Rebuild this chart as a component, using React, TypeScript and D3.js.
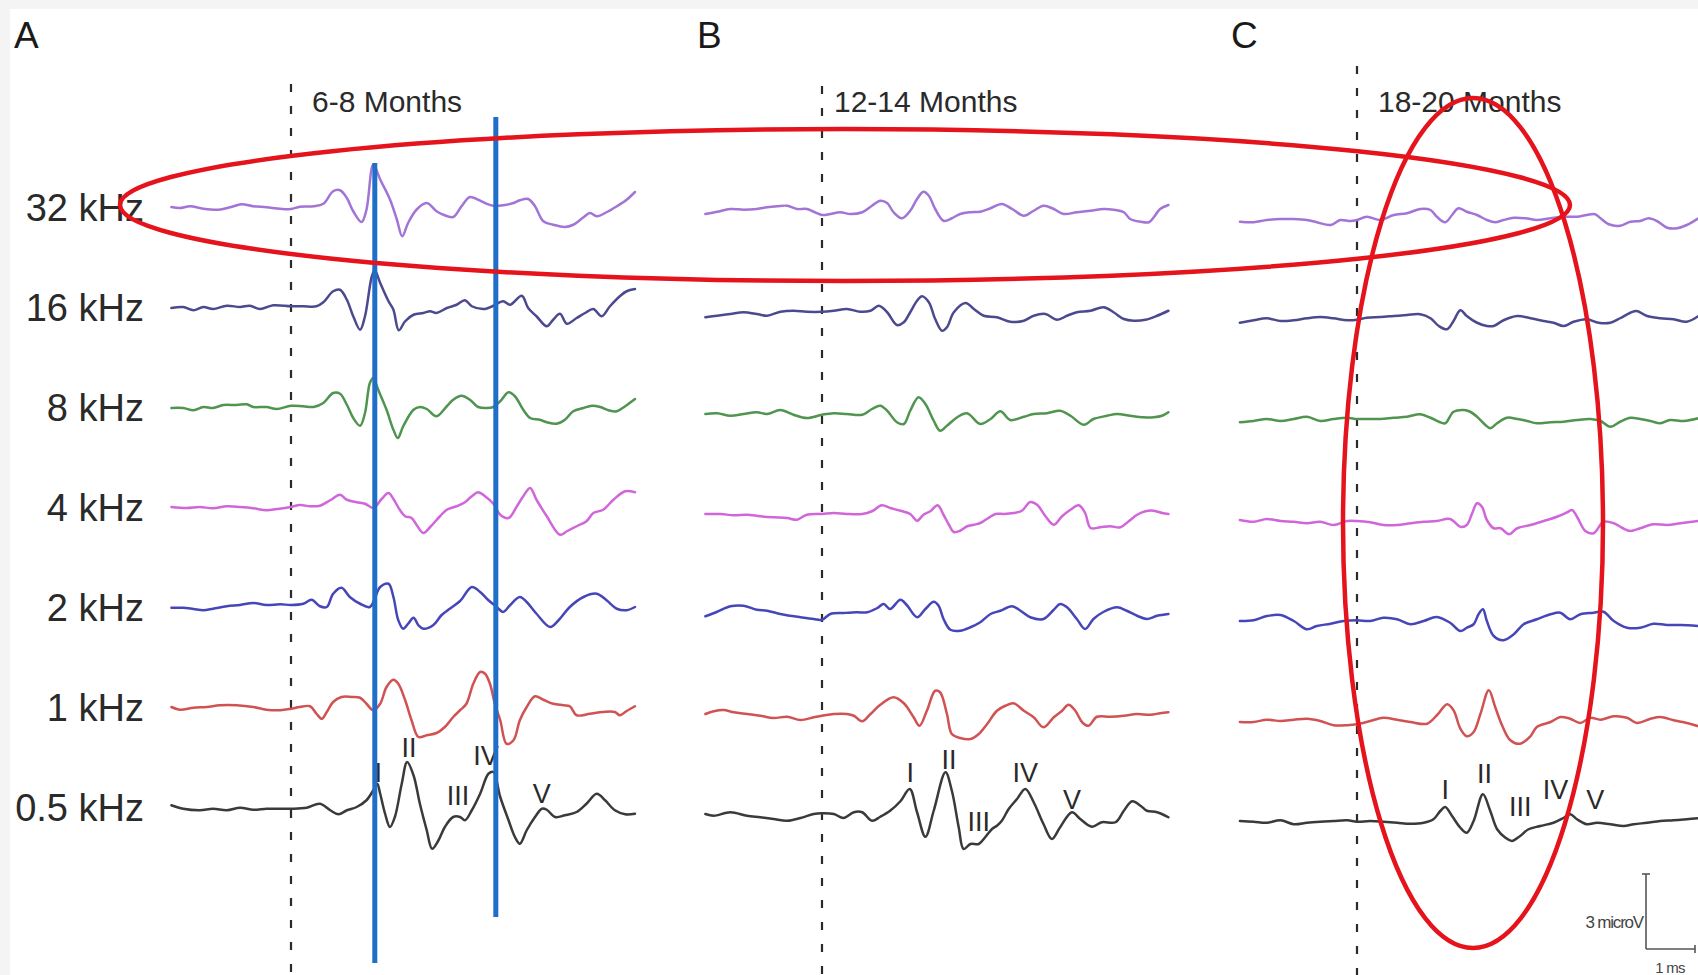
import React from 'react';
import * as d3 from 'd3';

// ABR traces, 7 stimulus frequencies x 3 age groups
// each trace: [time after onset (ms), amplitude (microV)]
type Pt = [number, number];

const freqLabels = ['32 kHz', '16 kHz', '8 kHz', '4 kHz', '2 kHz', '1 kHz', '0.5 kHz'];
const traceColors = ['#a274d6', '#4c4a8e', '#4f944f', '#d066da', '#4646b8', '#d05252', '#3a3a3a'];
const panelLetters = ['A', 'B', 'C'];
const panelTitles = ['6-8 Months', '12-14 Months', '18-20 Months'];
const waveNames = ['I', 'II', 'III', 'IV', 'V'];

// ---- panel A : 6-8 months ----
const a32: Pt[] = [[-2.44,0],[-2.27,-0.04],[-2.06,0.03],[-1.79,-0.07],[-1.48,-0.11],[-1.24,-0.01],[-1.01,0.11],[-0.77,0.03],[-0.5,-0.01],[-0.22,-0.07],[0,-0.08],[0.18,0.01],[0.46,0.03],[0.66,0.13],[0.86,0.63],[1.0,0.67],[1.14,0.36],[1.27,-0.17],[1.44,-0.6],[1.54,-0.11],[1.68,1.7],[1.82,1.1],[2.02,0.3],[2.16,-0.5],[2.27,-1.17],[2.39,-0.64],[2.56,-0.11],[2.77,0.16],[2.97,-0.17],[3.11,-0.31],[3.31,-0.4],[3.48,0.03],[3.65,0.4],[3.82,0.29],[3.96,0.16],[4.13,0.05],[4.33,0.07],[4.54,0.16],[4.67,0.27],[4.84,0.32],[4.98,0.03],[5.15,-0.57],[5.35,-0.71],[5.59,-0.8],[5.76,-0.71],[5.97,-0.41],[6.1,-0.24],[6.24,-0.37],[6.44,-0.21],[6.65,0.03],[6.85,0.29],[7.02,0.6]];
const a16: Pt[] = [[-2.44,-0.04],[-2.2,0],[-1.99,-0.13],[-1.79,0],[-1.59,-0.08],[-1.31,0.05],[-1.04,0],[-0.84,0.05],[-0.63,-0.08],[-0.36,0.07],[0,0.03],[0.25,0.03],[0.52,0.03],[0.66,0.19],[0.86,0.63],[1.0,0.69],[1.14,0.29],[1.27,-0.37],[1.41,-0.91],[1.51,-0.37],[1.65,1.23],[1.71,1.47],[1.82,0.96],[1.99,0.23],[2.09,-0.11],[2.2,-0.93],[2.33,-0.57],[2.5,-0.31],[2.7,-0.24],[2.84,-0.17],[2.97,-0.24],[3.18,-0.04],[3.38,0.09],[3.55,0.27],[3.69,0.03],[3.96,-0.08],[4.13,0.05],[4.33,0.23],[4.47,0.09],[4.71,0.45],[4.84,-0.04],[5.01,-0.37],[5.22,-0.77],[5.35,-0.51],[5.49,-0.27],[5.63,-0.67],[5.83,-0.44],[6.0,-0.24],[6.17,-0.08],[6.34,-0.37],[6.51,0.03],[6.71,0.43],[6.85,0.63],[7.02,0.72]];
const a8: Pt[] = [[-2.44,-0.04],[-2.2,-0.04],[-1.99,-0.13],[-1.79,0],[-1.59,-0.04],[-1.38,0.08],[-1.11,0.08],[-0.9,0.11],[-0.77,0],[-0.5,0],[-0.29,-0.08],[0,0.05],[0.25,0.03],[0.46,0],[0.66,0.16],[0.86,0.56],[1.0,0.53],[1.14,0.09],[1.27,-0.44],[1.41,-0.75],[1.51,-0.24],[1.61,0.96],[1.68,1.16],[1.78,0.69],[1.95,-0.11],[2.09,-0.91],[2.18,-1.24],[2.29,-0.77],[2.5,-0.11],[2.63,0],[2.77,-0.08],[2.97,-0.37],[3.18,0.03],[3.31,0.29],[3.48,0.45],[3.65,0.29],[3.82,0],[3.99,-0.04],[4.13,0],[4.27,0.23],[4.44,0.59],[4.57,0.43],[4.74,-0.11],[4.88,-0.44],[5.08,-0.51],[5.22,-0.61],[5.42,-0.67],[5.59,-0.51],[5.76,-0.17],[5.97,-0.04],[6.14,0.05],[6.31,0],[6.48,-0.13],[6.65,-0.17],[6.82,0.03],[7.02,0.32]];
const a4: Pt[] = [[-2.44,0],[-2.13,-0.04],[-1.86,0],[-1.59,-0.05],[-1.31,0.03],[-1.04,0],[-0.77,-0.05],[-0.5,-0.13],[-0.29,-0.08],[0,0],[0.18,0.08],[0.39,0.03],[0.59,0.05],[0.8,0.27],[1.0,0.49],[1.14,0.29],[1.34,0.19],[1.51,0.13],[1.68,-0.04],[1.85,0.32],[1.99,0.56],[2.09,0.32],[2.22,-0.11],[2.33,-0.37],[2.46,-0.44],[2.56,-0.71],[2.7,-1.04],[2.84,-0.8],[3.04,-0.37],[3.18,-0.11],[3.38,0.03],[3.55,0.19],[3.69,0.43],[3.82,0.59],[3.96,0.43],[4.13,0.13],[4.27,-0.31],[4.44,-0.44],[4.61,0.03],[4.74,0.43],[4.88,0.76],[5.01,0.29],[5.22,-0.37],[5.49,-1.11],[5.63,-0.97],[5.83,-0.77],[6.03,-0.57],[6.17,-0.24],[6.37,-0.11],[6.58,0.29],[6.82,0.63],[7.02,0.59]];
const a2: Pt[] = [[-2.44,-0.03],[-2.2,-0.03],[-1.99,-0.08],[-1.79,-0.13],[-1.59,-0.07],[-1.31,0.03],[-1.04,0.08],[-0.77,0.16],[-0.5,0.08],[-0.22,0.11],[0,0.08],[0.25,0.13],[0.42,0.29],[0.59,0.03],[0.73,0],[0.86,0.53],[1.03,0.77],[1.2,0.4],[1.41,0.13],[1.61,0],[1.82,0.8],[1.99,0.93],[2.09,0.4],[2.19,-0.53],[2.29,-0.87],[2.39,-0.67],[2.5,-0.43],[2.6,-0.73],[2.7,-0.87],[2.9,-0.73],[3.07,-0.33],[3.24,-0.07],[3.45,0.24],[3.69,0.8],[3.86,0.6],[4.03,0.27],[4.2,0],[4.33,-0.2],[4.47,0.07],[4.67,0.4],[4.81,0.2],[5.01,-0.27],[5.29,-0.8],[5.46,-0.53],[5.69,0],[5.97,0.4],[6.24,0.53],[6.44,0.27],[6.65,-0.07],[6.85,-0.13],[7.02,0]];
const a1: Pt[] = [[-2.44,0],[-2.27,-0.11],[-1.99,-0.03],[-1.72,0],[-1.45,0.07],[-1.11,0.07],[-0.77,0],[-0.5,-0.11],[-0.22,-0.13],[0,-0.07],[0.18,0],[0.39,0.03],[0.52,-0.27],[0.63,-0.47],[0.73,-0.2],[0.86,0.2],[1.03,0.4],[1.24,0.4],[1.41,0.37],[1.54,0.13],[1.68,-0.13],[1.82,0.13],[1.95,0.8],[2.09,1.09],[2.19,0.93],[2.33,0.27],[2.46,-0.53],[2.6,-1.2],[2.77,-1.13],[2.97,-1.04],[3.14,-0.8],[3.31,-0.4],[3.45,-0.13],[3.58,0.13],[3.72,0.93],[3.86,1.4],[3.96,1.33],[4.06,0.93],[4.16,0.13],[4.27,-0.53],[4.4,-1.47],[4.54,-1.33],[4.67,-0.53],[4.81,0],[4.98,0.43],[5.15,0.29],[5.35,0.13],[5.56,0.07],[5.69,0.03],[5.83,-0.33],[6.1,-0.27],[6.37,-0.2],[6.61,-0.2],[6.71,-0.33],[6.85,-0.16],[7.02,0.03]];
const a05: Pt[] = [[-2.44,0.07],[-2.2,-0.07],[-1.86,-0.13],[-1.59,-0.07],[-1.31,-0.13],[-1.04,-0.03],[-0.77,-0.11],[-0.5,-0.07],[-0.22,-0.07],[0,-0.07],[0.32,-0.03],[0.59,0.13],[0.8,-0.13],[0.97,-0.29],[1.14,-0.13],[1.34,0],[1.54,0.27],[1.68,0.67],[1.76,0.93],[1.82,0.53],[1.92,-0.27],[2.02,-0.8],[2.12,-0.4],[2.26,0.93],[2.37,1.8],[2.5,1.27],[2.63,0.13],[2.77,-0.93],[2.88,-1.67],[3.01,-1.33],[3.14,-0.8],[3.31,-0.4],[3.45,-0.4],[3.55,-0.53],[3.69,-0.13],[3.86,0.53],[4.03,1.33],[4.13,1.4],[4.27,0.4],[4.44,-0.53],[4.57,-1.2],[4.67,-1.47],[4.81,-0.93],[4.98,-0.4],[5.12,-0.07],[5.22,-0.11],[5.39,-0.4],[5.59,-0.33],[5.83,-0.2],[6.03,0.13],[6.24,0.53],[6.41,0.27],[6.61,-0.13],[6.82,-0.29],[7.02,-0.27]];
const aWaves: Pt[] = [[1.78,1.0],[2.41,2.0],[3.41,0.07],[3.98,1.67],[5.12,0.16]];

// ---- panel B : 12-14 months ----
const b32: Pt[] = [[-2.38,0],[-2.14,0.09],[-1.87,0.2],[-1.6,0.17],[-1.33,0.2],[-1.12,0.27],[-0.92,0.31],[-0.71,0.33],[-0.51,0.2],[-0.31,0.2],[-0.17,0.09],[0,-0.04],[0.17,0],[0.37,0.07],[0.58,0],[0.82,0.07],[1.02,0.33],[1.19,0.53],[1.33,0.44],[1.46,0.07],[1.63,-0.17],[1.8,0.13],[1.94,0.6],[2.07,0.89],[2.18,0.73],[2.31,0.2],[2.48,-0.27],[2.65,-0.17],[2.82,0],[3.03,0.07],[3.23,0.09],[3.44,0.23],[3.67,0.4],[3.88,0.2],[4.12,-0.07],[4.32,0.13],[4.52,0.33],[4.73,0.2],[4.93,0],[5.2,0.07],[5.48,0.13],[5.75,0.2],[5.95,0.17],[6.16,0.07],[6.29,-0.2],[6.5,-0.31],[6.67,-0.33],[6.77,-0.13],[6.9,0.2],[7.07,0.36]];
const b16: Pt[] = [[-2.38,-0.13],[-2.14,-0.07],[-1.87,0],[-1.6,0.07],[-1.33,0],[-1.12,-0.07],[-0.85,0.09],[-0.58,0.13],[-0.31,0.09],[0,0.09],[0.24,0.13],[0.51,0.2],[0.78,0.09],[0.99,0.13],[1.16,0.33],[1.33,0.07],[1.53,-0.44],[1.67,-0.33],[1.8,0.07],[1.94,0.53],[2.04,0.71],[2.18,0.47],[2.31,-0.2],[2.45,-0.67],[2.55,-0.53],[2.69,0.07],[2.93,0.44],[3.1,0.2],[3.3,-0.07],[3.57,-0.13],[3.84,-0.31],[4.12,-0.27],[4.32,-0.07],[4.56,0],[4.8,-0.23],[5.0,-0.07],[5.2,0.07],[5.48,0.13],[5.75,0.27],[5.95,0.07],[6.16,-0.2],[6.36,-0.27],[6.6,-0.23],[6.84,-0.07],[7.07,0.13]];
const b8: Pt[] = [[-2.38,0],[-2.14,0.03],[-1.87,-0.07],[-1.6,0],[-1.33,0.07],[-1.12,0],[-0.85,0.16],[-0.58,-0.03],[-0.31,-0.16],[0,-0.03],[0.24,0.03],[0.51,0],[0.82,-0.03],[1.02,0.2],[1.19,0.33],[1.33,0.13],[1.53,-0.33],[1.67,-0.4],[1.8,0.13],[1.97,0.67],[2.11,0.4],[2.28,-0.27],[2.41,-0.67],[2.55,-0.47],[2.76,-0.13],[2.96,0.03],[3.23,-0.4],[3.44,-0.2],[3.64,0.11],[3.84,-0.24],[4.12,-0.11],[4.32,0],[4.59,0.03],[4.86,0.13],[5.07,-0.07],[5.34,-0.43],[5.54,-0.2],[5.82,-0.07],[6.02,0],[6.29,-0.07],[6.56,-0.13],[6.77,-0.13],[6.94,-0.07],[7.07,0.07]];
const b4: Pt[] = [[-2.38,0],[-2.07,0],[-1.8,-0.05],[-1.53,-0.03],[-1.26,-0.09],[-0.99,-0.13],[-0.71,-0.16],[-0.51,-0.23],[-0.31,-0.03],[0,0],[0.24,0.04],[0.51,0],[0.82,0],[1.02,0.11],[1.22,0.35],[1.39,0.24],[1.6,0.13],[1.8,0],[1.94,-0.27],[2.07,-0.03],[2.21,0.11],[2.36,0.35],[2.48,-0.03],[2.59,-0.43],[2.69,-0.72],[2.82,-0.67],[2.96,-0.49],[3.1,-0.43],[3.23,-0.36],[3.37,-0.19],[3.54,0],[3.71,0],[3.91,0.04],[4.08,0.13],[4.25,0.48],[4.39,0.37],[4.56,-0.09],[4.73,-0.43],[4.9,-0.09],[5.07,0.17],[5.24,0.35],[5.37,0.04],[5.48,-0.56],[5.68,-0.53],[5.88,-0.49],[6.09,-0.53],[6.26,-0.29],[6.43,-0.03],[6.6,0.11],[6.77,0.13],[6.94,0.04],[7.07,0]];
const b2: Pt[] = [[-2.38,-0.09],[-2.14,0.09],[-1.87,0.31],[-1.6,0.33],[-1.33,0.17],[-1.12,0.13],[-0.85,0],[-0.65,-0.07],[-0.44,-0.13],[-0.17,-0.2],[0,-0.23],[0.17,0],[0.44,0.04],[0.71,0.07],[0.92,0.07],[1.12,0.23],[1.26,0.4],[1.39,0.2],[1.6,0.57],[1.73,0.36],[1.94,-0.13],[2.11,0.2],[2.28,0.49],[2.38,0.33],[2.48,-0.2],[2.62,-0.63],[2.82,-0.67],[3.03,-0.53],[3.23,-0.33],[3.44,0],[3.64,0.13],[3.88,0.31],[4.05,0.13],[4.25,-0.13],[4.52,-0.2],[4.73,0.17],[4.86,0.4],[5.0,0.27],[5.2,-0.2],[5.37,-0.6],[5.54,-0.2],[5.75,0.09],[6.02,0.27],[6.22,0.13],[6.43,-0.07],[6.63,-0.2],[6.84,-0.07],[7.07,0]];
const b1: Pt[] = [[-2.38,0],[-2.21,0.11],[-2.01,0.16],[-1.8,0.07],[-1.53,0],[-1.26,-0.07],[-0.99,-0.16],[-0.71,-0.11],[-0.44,-0.24],[-0.17,-0.13],[0,-0.07],[0.24,0],[0.51,0],[0.65,-0.07],[0.82,-0.29],[0.99,0],[1.19,0.37],[1.46,0.67],[1.67,0.43],[1.87,-0.13],[1.99,-0.47],[2.14,0.13],[2.31,0.93],[2.41,0.87],[2.55,0],[2.65,-0.8],[2.82,-0.96],[3.03,-1.0],[3.2,-0.8],[3.37,-0.4],[3.57,0.13],[3.74,0.33],[3.91,0.43],[4.12,0.13],[4.32,-0.13],[4.52,-0.53],[4.73,-0.13],[4.9,0.13],[5.03,0.37],[5.17,0.13],[5.31,-0.33],[5.44,-0.47],[5.61,-0.11],[5.88,-0.11],[6.16,-0.07],[6.43,0],[6.7,-0.03],[6.9,0.03],[7.07,0.07]];
const b05: Pt[] = [[-2.38,0],[-2.21,-0.07],[-1.87,0.07],[-1.53,-0.07],[-1.26,-0.13],[-0.99,-0.2],[-0.71,-0.27],[-0.44,-0.16],[-0.17,0],[0,0.03],[0.24,0],[0.44,-0.16],[0.65,0.07],[0.82,0.07],[1.02,-0.27],[1.19,-0.11],[1.39,0.13],[1.6,0.51],[1.79,1.0],[1.94,0.07],[2.11,-0.91],[2.28,0.13],[2.52,1.67],[2.65,0.93],[2.79,-0.53],[2.89,-1.4],[3.03,-1.2],[3.2,-1.2],[3.33,-0.93],[3.47,-0.6],[3.57,-0.47],[3.67,-0.27],[3.81,0.2],[3.98,0.6],[4.15,1.0],[4.32,0.47],[4.52,-0.4],[4.69,-1.0],[4.86,-0.53],[5.1,0.07],[5.27,-0.2],[5.51,-0.51],[5.71,-0.33],[5.99,-0.33],[6.16,0.13],[6.33,0.51],[6.5,0.33],[6.63,0.13],[6.84,0.07],[7.07,-0.13]];
const bWaves: Pt[] = [[1.8,1.27],[2.59,1.8],[3.2,-0.67],[4.15,1.27],[5.1,0.2]];

// ---- panel C : 18-20 months ----
const c32: Pt[] = [[-2.39,-0.03],[-2.11,-0.05],[-1.84,0.04],[-1.56,0.08],[-1.29,0.08],[-1.02,0.04],[-0.82,-0.05],[-0.54,-0.16],[-0.34,0.04],[-0.14,0],[0,0.04],[0.2,0.17],[0.48,0.04],[0.75,0.24],[1.02,0.31],[1.29,0.48],[1.5,0.44],[1.63,0.17],[1.8,-0.05],[1.94,0.24],[2.07,0.51],[2.24,0.37],[2.45,0.24],[2.65,0.04],[2.82,-0.05],[2.99,0.04],[3.2,0.13],[3.44,0.11],[3.67,0.04],[3.95,0.11],[4.22,0.17],[4.49,0.17],[4.69,0.24],[4.86,0.27],[4.97,0.11],[5.14,-0.13],[5.37,-0.19],[5.58,-0.03],[5.78,0],[5.95,0.11],[6.12,0],[6.33,-0.27],[6.53,-0.29],[6.73,-0.16],[6.97,0.11],[7.04,0.2]];
const c16: Pt[] = [[-2.39,-0.07],[-2.11,0.03],[-1.84,0.11],[-1.56,0],[-1.29,0.03],[-1.02,0.11],[-0.75,0.16],[-0.48,0.11],[-0.2,0.03],[0,0.05],[0.2,0.13],[0.48,0.16],[0.75,0.2],[1.02,0.24],[1.29,0.27],[1.5,0.11],[1.67,-0.2],[1.84,-0.33],[1.97,0],[2.11,0.43],[2.24,0.2],[2.45,-0.07],[2.65,-0.2],[2.79,-0.2],[2.99,0.03],[3.27,0.2],[3.54,0.11],[3.81,0],[4.01,-0.07],[4.22,-0.2],[4.42,-0.03],[4.69,0.07],[4.93,-0.07],[5.17,-0.07],[5.37,0.11],[5.58,0.33],[5.71,0.4],[5.92,0.2],[6.19,0.11],[6.46,0.07],[6.73,-0.03],[6.97,0.2]];
const c8: Pt[] = [[-2.39,-0.05],[-2.11,0],[-1.84,0.08],[-1.56,0],[-1.29,0.08],[-1.02,0.17],[-0.75,0],[-0.48,0.08],[-0.2,0.13],[0,0.08],[0.2,0.08],[0.48,0.08],[0.75,0.13],[1.02,0.17],[1.29,0.27],[1.5,0.13],[1.67,-0.03],[1.8,-0.09],[1.97,0.37],[2.18,0.44],[2.31,0.37],[2.45,0.17],[2.62,-0.16],[2.72,-0.29],[2.86,-0.09],[3.06,0.13],[3.27,0.08],[3.47,0],[3.67,-0.09],[3.95,-0.05],[4.22,-0.03],[4.49,0.04],[4.76,0.08],[4.97,0],[5.17,-0.23],[5.37,-0.03],[5.58,0.13],[5.78,0.08],[5.99,0],[6.19,-0.09],[6.39,0.04],[6.67,0],[6.97,0.11]];
const c4: Pt[] = [[-2.39,0.04],[-2.11,-0.03],[-1.84,0.08],[-1.56,0],[-1.29,-0.03],[-1.02,-0.09],[-0.75,-0.03],[-0.48,-0.16],[-0.2,0],[0,0],[0.27,-0.05],[0.54,-0.16],[0.82,-0.16],[1.09,-0.09],[1.36,-0.03],[1.63,0],[1.9,0.08],[2.11,-0.23],[2.24,-0.16],[2.35,0.31],[2.45,0.71],[2.55,0.57],[2.65,0.04],[2.79,-0.29],[2.93,-0.29],[3.1,-0.53],[3.27,-0.29],[3.54,-0.16],[3.81,0],[4.08,0.17],[4.29,0.35],[4.39,0.44],[4.49,0.17],[4.66,-0.4],[4.83,-0.49],[5.03,-0.03],[5.24,-0.09],[5.41,-0.27],[5.58,-0.4],[5.78,-0.29],[6.05,-0.13],[6.33,-0.16],[6.6,-0.09],[6.97,0]];
const c2: Pt[] = [[-2.39,0],[-2.11,0.03],[-1.84,0.2],[-1.56,0.24],[-1.29,0],[-1.02,-0.33],[-0.82,-0.2],[-0.54,-0.11],[-0.27,0],[0,0.03],[0.27,0],[0.54,0.13],[0.82,0.07],[1.09,-0.13],[1.36,0],[1.63,0.16],[1.9,-0.07],[2.11,-0.4],[2.24,-0.27],[2.38,-0.13],[2.48,0.27],[2.57,0.47],[2.65,0],[2.79,-0.6],[2.99,-0.77],[3.2,-0.53],[3.4,-0.13],[3.67,0.07],[3.95,0.27],[4.15,0.33],[4.35,0.07],[4.56,0.27],[4.83,0.33],[5.03,0.37],[5.24,0],[5.51,-0.27],[5.78,-0.27],[6.05,-0.11],[6.33,-0.16],[6.6,-0.16],[6.97,-0.2]];
const c1: Pt[] = [[-2.39,-0.04],[-2.11,-0.04],[-1.84,0.05],[-1.56,0],[-1.29,0.05],[-1.02,0.09],[-0.75,0],[-0.48,-0.17],[-0.2,-0.17],[0,-0.13],[0.27,0],[0.54,0.13],[0.82,0.05],[1.09,-0.04],[1.43,-0.11],[1.63,0.23],[1.84,0.67],[1.97,0.43],[2.11,-0.31],[2.24,-0.61],[2.38,-0.44],[2.52,0.29],[2.69,1.23],[2.82,0.56],[2.96,-0.17],[3.13,-0.77],[3.33,-0.91],[3.54,-0.61],[3.67,-0.24],[3.95,-0.04],[4.15,0.16],[4.35,0.09],[4.56,-0.08],[4.76,0.13],[4.97,0.05],[5.24,0.19],[5.51,0.13],[5.71,-0.08],[5.99,0.09],[6.19,0.16],[6.46,0.03],[6.73,-0.08],[6.97,-0.21]];
const c05: Pt[] = [[-2.39,0],[-2.11,-0.03],[-1.84,-0.07],[-1.56,0.03],[-1.29,-0.13],[-1.02,-0.07],[-0.75,-0.03],[-0.48,0],[-0.2,0.03],[0,-0.03],[0.27,0],[0.54,-0.03],[0.82,-0.07],[1.09,-0.11],[1.36,-0.07],[1.56,0.07],[1.7,0.4],[1.8,0.56],[1.94,0.2],[2.11,-0.27],[2.24,-0.47],[2.38,0],[2.57,1.07],[2.72,0.4],[2.86,-0.33],[3.03,-0.67],[3.16,-0.8],[3.33,-0.6],[3.5,-0.33],[3.74,-0.2],[4.01,-0.07],[4.22,0.13],[4.35,0.27],[4.49,0.07],[4.69,-0.13],[4.9,-0.07],[5.17,-0.13],[5.44,-0.2],[5.65,-0.13],[5.92,-0.07],[6.19,0],[6.46,0.03],[6.73,0.07],[6.97,0.11]];
const cWaves: Pt[] = [[1.8,0.87],[2.6,1.53],[3.33,0.2],[4.05,0.87],[4.86,0.47]];

// annotation overlays (blue markers at ms in panel A)
const blueMarkers = [1.71, 4.18];

const W = 1698;
const H = 975;
const MS_PX = 49;
const UV_PX = 25;
const FONT = '"Liberation Sans", Arial, Helvetica, sans-serif';

const panels = [
  { traces: [a32, a16, a8, a4, a2, a1, a05], waves: aWaves, onsetX: 291, shift: 0, dotTop: 84, letterX: 14, titleX: 312 },
  { traces: [b32, b16, b8, b4, b2, b1, b05], waves: bWaves, onsetX: 822, shift: 7, dotTop: 86, letterX: 697, titleX: 834 },
  { traces: [c32, c16, c8, c4, c2, c1, c05], waves: cWaves, onsetX: 1357, shift: 14, dotTop: 66, letterX: 1231, titleX: 1378 },
];

const rowY = d3.scalePoint<string>().domain(freqLabels).range([207, 807]);

export default function App() {
  return (
    <svg width={W} height={H} style={{ position: 'absolute', left: 0, top: 0, display: 'block' }} fontFamily={FONT}>
      <rect width={W} height={H} fill="#f4f4f4" />
      <rect x={10} y={9} width={W - 10} height={H - 9} fill="#ffffff" />

      {freqLabels.map((f) => (
        <text key={f} x={144} y={(rowY(f) ?? 0) + 14} textAnchor="end" fontSize={38} fill="#2a2a2a">{f}</text>
      ))}

      {panels.map((p, pi) => {
        const x = d3.scaleLinear().domain([0, 1]).range([p.onsetX, p.onsetX + MS_PX]);
        const base = (f: string) => (rowY(f) ?? 0) + p.shift;
        return (
          <g key={pi}>
            <text x={p.letterX} y={48} fontSize={37} fill="#1a1a1a">{panelLetters[pi]}</text>
            <text x={p.titleX} y={112} fontSize={30} fill="#2a2a2a">{panelTitles[pi]}</text>
            <line x1={x(0)} x2={x(0)} y1={p.dotTop} y2={H} stroke="#2a2a2a" strokeWidth={2.2} strokeDasharray="8 14" />
            {p.traces.map((tr, ri) => {
              const b = base(freqLabels[ri]);
              const y = d3.scaleLinear().domain([0, 1]).range([b, b - UV_PX]);
              const line = d3.line<Pt>().x((d) => x(d[0])).y((d) => y(d[1])).curve(d3.curveCatmullRom.alpha(0.5));
              return (
                <path key={ri} d={line(tr) ?? ''} fill="none" stroke={traceColors[ri]}
                  strokeWidth={2.5} strokeLinejoin="round" strokeLinecap="round" />
              );
            })}
            {p.waves.map((w, wi) => {
              const b = base(freqLabels[6]);
              const y = d3.scaleLinear().domain([0, 1]).range([b, b - UV_PX]);
              return (
                <text key={wi} x={x(w[0])} y={y(w[1])} textAnchor="middle" fontSize={27} fill="#2a2a2a">{waveNames[wi]}</text>
              );
            })}
          </g>
        );
      })}

      {/* scale bar */}
      <g stroke="#555" strokeWidth={1.6} fill="none">
        <line x1={1646} x2={1646} y1={874} y2={949} />
        <line x1={1642} x2={1650} y1={874} y2={874} />
        <line x1={1646} x2={1695} y1={949} y2={949} />
        <line x1={1695} x2={1695} y1={945} y2={953} />
      </g>
      <text x={1643} y={928} textAnchor="end" fontSize={17} letterSpacing={-1.2} fill="#444">3 microV</text>
      <text x={1670} y={973} textAnchor="middle" fontSize={15} letterSpacing={-0.8} fill="#444">1 ms</text>

      {/* annotation overlays */}
      {blueMarkers.map((t, i) => {
        const xA = d3.scaleLinear().domain([0, 1]).range([panels[0].onsetX, panels[0].onsetX + MS_PX]);
        return (
          <line key={i} x1={xA(t)} x2={xA(t)} y1={i === 0 ? 163 : 117} y2={i === 0 ? 963 : 917}
            stroke="#1f6fc8" strokeWidth={5} />
        );
      })}
      <ellipse cx={845} cy={205} rx={725} ry={76} fill="none" stroke="#e5131b" strokeWidth={4.5} />
      <ellipse cx={1473} cy={523} rx={130} ry={425} fill="none" stroke="#e5131b" strokeWidth={4.5} />
    </svg>
  );
}
